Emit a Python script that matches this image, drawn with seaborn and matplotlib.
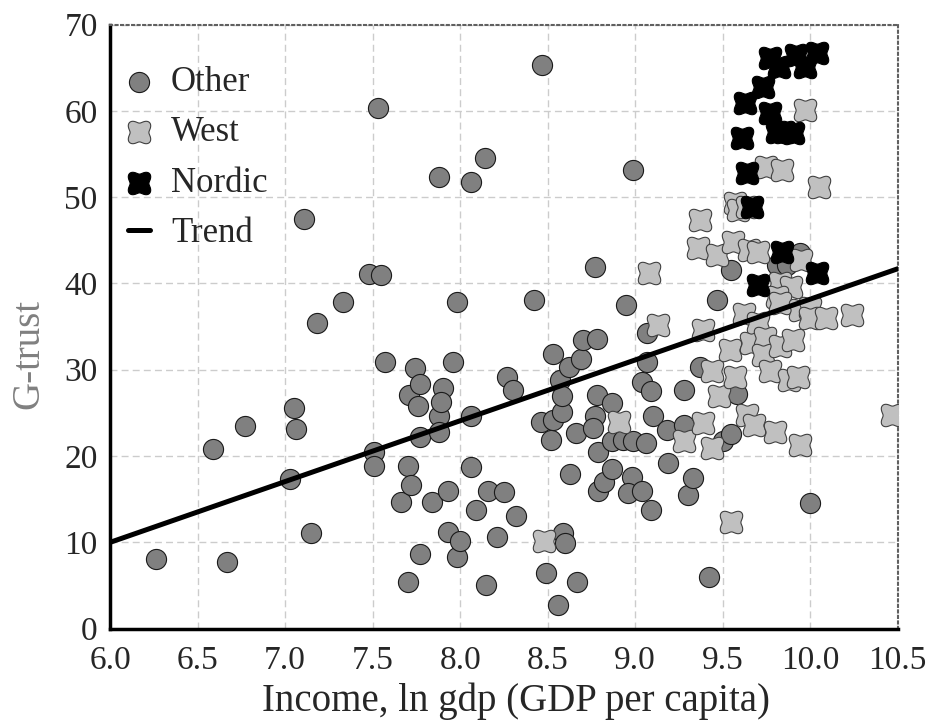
import numpy as np
import pandas as pd
import seaborn as sns
import matplotlib
matplotlib.use('Agg')
import matplotlib.pyplot as plt
from matplotlib.path import Path

# values
other_x = [6.26, 6.59, 6.67, 6.77, 7.03, 7.05, 7.06, 7.11, 7.15, 7.18, 7.33, 7.48, 7.55, 7.51, 7.51,
           7.53, 7.57, 7.66, 7.70, 7.70, 7.72, 7.71, 7.74, 7.77, 7.76, 7.77, 7.77, 7.84, 7.88, 7.88,
           7.88, 7.90, 7.89, 7.93, 7.93, 7.98, 7.96, 7.98, 8.00, 8.06, 8.06, 8.06, 8.09, 8.14, 8.16,
           8.15, 8.21, 8.25, 8.27, 8.30, 8.32, 8.42, 8.47, 8.46, 8.49, 8.52, 8.53, 8.53, 8.58, 8.57,
           8.56, 8.58, 8.59, 8.60, 8.62, 8.63, 8.66, 8.67, 8.69, 8.70, 8.78, 8.77, 8.78, 8.87, 8.77,
           8.76, 8.79, 8.79, 8.82, 8.87, 8.87, 8.93, 8.99, 9.06, 8.95, 8.98, 8.96, 8.99, 9.04, 9.04,
           9.07, 9.07, 9.09, 9.09, 9.10, 9.18, 9.19, 9.28, 9.28, 9.30, 9.33, 9.37, 9.42, 9.47, 9.50,
           9.55, 9.55, 9.58, 9.81, 9.87, 9.94, 10.00]
other_y = [8.1, 20.8, 7.75, 23.5, 17.3, 25.6, 23.1, 47.5, 11.1, 35.4, 37.8, 41.1, 41.0, 20.5, 18.8,
           60.3, 30.9, 14.7, 18.8, 5.4, 16.6, 27.1, 30.2, 28.3, 25.8, 8.6, 22.2, 14.7, 52.3, 24.6,
           22.8, 27.9, 26.3, 11.2, 15.9, 37.9, 30.9, 8.3, 10.1, 51.7, 24.6, 18.7, 13.7, 54.5, 16.0,
           5.05, 10.6, 15.8, 29.2, 27.6, 13.0, 38.1, 65.3, 24.0, 6.4, 21.9, 24.2, 31.8, 25.1, 28.8,
           2.7, 26.9, 11.1, 9.9, 30.3, 17.9, 22.7, 5.4, 31.3, 33.4, 33.6, 41.9, 27.1, 26.1, 24.6,
           23.2, 20.5, 15.9, 17.0, 18.5, 21.7, 21.9, 21.7, 21.5, 37.5, 17.6, 15.7, 53.1, 15.9, 28.6,
           34.2, 30.9, 27.5, 13.7, 24.6, 23.0, 19.2, 27.6, 23.6, 15.5, 17.4, 30.3, 6.0, 38.1, 21.7,
           22.6, 41.5, 27.2, 42.1, 42.1, 43.5, 14.6]

west_x = [8.48, 8.91, 9.08, 9.13, 9.28, 9.39, 9.37, 9.36, 9.47, 9.39, 9.44, 9.44, 9.48, 9.54, 9.57,
          9.55, 9.56, 9.57, 9.59, 9.64, 9.65, 9.70, 9.62, 9.70, 9.66, 9.74, 9.73, 9.83, 9.90, 9.77,
          9.88, 9.93, 9.64, 9.68, 9.80, 9.94, 9.75, 9.84, 9.97, 10.05, 9.83, 9.89, 9.95, 9.81, 9.83,
          9.94, 10.00, 10.00, 10.09, 10.24, 10.47]
west_y = [10.1, 24.0, 41.2, 35.2, 21.7, 23.8, 47.3, 44.1, 43.3, 34.6, 20.9, 29.8, 26.9, 32.3, 29.2,
          12.4, 44.8, 49.3, 48.5, 48.9, 43.9, 43.7, 36.5, 35.4, 33.1, 33.7, 31.7, 32.7, 33.4, 29.8,
          28.8, 29.2, 24.8, 23.6, 22.8, 21.3, 53.5, 53.1, 60.1, 51.2, 40.0, 39.6, 42.7, 38.4, 37.7,
          36.9, 37.2, 36.0, 36.0, 36.3, 24.75]

nordic_x = [9.77, 9.82, 9.92, 9.97, 10.04, 9.73, 9.63, 9.77, 9.81, 9.85, 9.90, 9.61, 9.64, 9.67,
            9.84, 10.04, 9.70]
nordic_y = [66.1, 65.1, 66.5, 65.1, 66.7, 62.8, 60.9, 59.7, 57.6, 57.5, 57.4, 56.8, 52.8, 48.9,
            43.7, 41.2, 39.8]

trend_x = [6.0, 10.5]
trend_y = [10.0, 41.7]

df = pd.concat([
    pd.DataFrame({'gdp': other_x, 'trust': other_y, 'group': 'Other'}),
    pd.DataFrame({'gdp': west_x, 'trust': west_y, 'group': 'West'}),
    pd.DataFrame({'gdp': nordic_x, 'trust': nordic_y, 'group': 'Nordic'}),
])
trend = pd.DataFrame({'gdp': trend_x, 'trust': trend_y})

# square-ish cross with bites out of each side
t = np.linspace(0, 2 * np.pi, 121)
r = 1 - 0.2 * np.cos(4 * t)
verts = np.column_stack([r * np.cos(t), r * np.sin(t)])
cross = Path(verts, closed=True)

sns.set_style('white')
plt.rcParams['font.family'] = ['Liberation Serif', 'DejaVu Serif']

fig, ax = plt.subplots(figsize=(9.32, 7.28), dpi=100)
fig.subplots_adjust(left=0.1182, right=0.9632, bottom=0.1365, top=0.9663)

sns.scatterplot(data=df[df.group == 'Other'], x='gdp', y='trust', ax=ax, marker='o', s=210,
                color='#808080', edgecolor='#1a1a1a', linewidth=0.8, label='Other', zorder=3)
sns.scatterplot(data=df[df.group == 'West'], x='gdp', y='trust', ax=ax, marker=cross, s=260,
                color='#c0c0c0', edgecolor='#404040', linewidth=0.8, label='West', zorder=3)
sns.scatterplot(data=df[df.group == 'Nordic'], x='gdp', y='trust', ax=ax, marker=cross, s=260,
                color='black', edgecolor='black', linewidth=0.8, label='Nordic', zorder=4)
sns.lineplot(data=trend, x='gdp', y='trust', ax=ax, color='black', linewidth=3.6,
             label='Trend', zorder=5)

ax.set_xlim(6.0, 10.5)
ax.set_ylim(0, 70)
ax.set_xticks(np.arange(6.0, 10.51, 0.5))
ax.set_xticklabels([f'{v:.1f}' for v in np.arange(6.0, 10.51, 0.5)])
ax.set_yticks(range(0, 71, 10))
ax.tick_params(axis='both', labelsize=24, length=0)
ax.tick_params(axis='x', pad=12)
ax.tick_params(axis='y', pad=9)
ax.grid(True, linestyle=(0, (5, 3)), color='#cccccc', linewidth=1)
ax.set_axisbelow(True)

for side in ['left', 'bottom']:
    ax.spines[side].set_color('black')
    ax.spines[side].set_linewidth(2.5)
for side in ['top', 'right']:
    ax.spines[side].set_color('#606060')
    ax.spines[side].set_linewidth(1.5)
    ax.spines[side].set_linestyle(':')

ax.set_xlabel('Income, ln gdp (GDP per capita)', fontsize=28)
ax.set_ylabel('G-trust', fontsize=28, color='#808080')
ax.xaxis.set_label_coords(0.515, -0.09)
ax.yaxis.set_label_coords(-0.08, 0.455)

leg = ax.legend(loc='upper left', bbox_to_anchor=(0.0, 0.96), frameon=False, fontsize=25,
                handlelength=0.65, handletextpad=0.6, labelspacing=0.5,
                borderpad=0.2, borderaxespad=0.3)

fig.savefig('out.png', dpi=100)
